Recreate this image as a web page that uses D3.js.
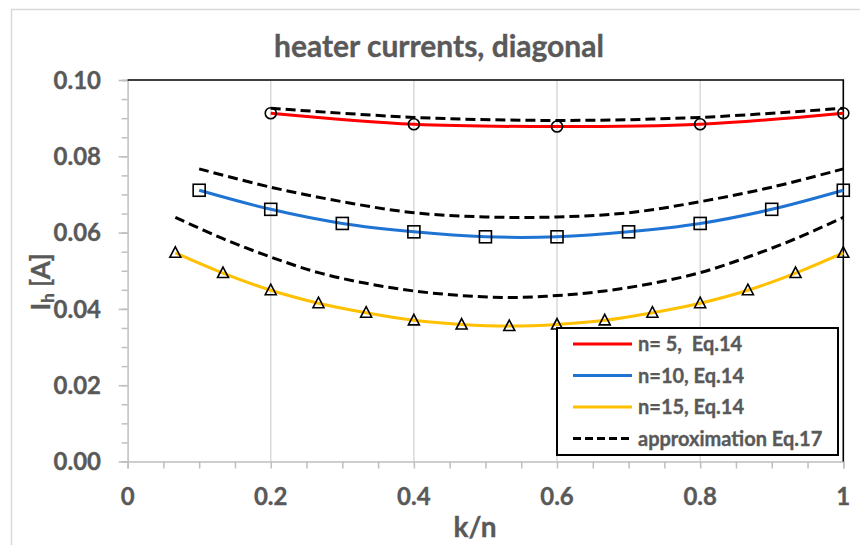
<!DOCTYPE html>
<html>
<head>
<meta charset="utf-8">
<script src="https://cdn.jsdelivr.net/npm/d3@7"></script>
<style>
  html, body { margin: 0; padding: 0; background: #fff; }
  svg text { font-family: Lato, "Open Sans", sans-serif; font-weight: bold; fill: #595959; stroke: #595959; stroke-width: 0.35px; }
</style>
</head>
<body>
<svg id="chart" width="860" height="545"></svg>
<script>
// ---- data ----
const xN5 = [0.2, 0.4, 0.6, 0.8, 1.0];
const n5 = [0.0913, 0.0884, 0.0878, 0.0884, 0.0913];
const approx5 = [0.0926, 0.0902, 0.0894, 0.0902, 0.0926];

const xN10 = [0.1, 0.2, 0.3, 0.4, 0.5, 0.6, 0.7, 0.8, 0.9, 1.0];
const n10 = [0.0711, 0.0661, 0.0624, 0.0602, 0.0589, 0.0589, 0.0602, 0.0624, 0.0661, 0.0711];
const approx10 = [0.0767, 0.0719, 0.0681, 0.0652, 0.0641, 0.0641, 0.0652, 0.0681, 0.0719, 0.0767];

const xN15 = [0.0667, 0.1333, 0.2, 0.2667, 0.3333, 0.4, 0.4667, 0.5333, 0.6, 0.6667, 0.7333, 0.8, 0.8667, 0.9333, 1.0];
const n15 = [0.0547, 0.0494, 0.0449, 0.0415, 0.0390, 0.0370, 0.0359, 0.0355, 0.0359, 0.0370, 0.0390, 0.0415, 0.0449, 0.0494, 0.0547];
const approx15 = [0.0640, 0.0584, 0.0536, 0.0495, 0.0467, 0.0447, 0.0435, 0.0430, 0.0435, 0.0447, 0.0467, 0.0495, 0.0536, 0.0584, 0.0640];

const xTicks = [0, 0.2, 0.4, 0.6, 0.8, 1];
const xTickLabels = ["0", "0.2", "0.4", "0.6", "0.8", "1"];
const yTicks = [0, 0.02, 0.04, 0.06, 0.08, 0.10];
const legendLabels = ["n= 5,  Eq.14", "n=10, Eq.14", "n=15, Eq.14", "approximation Eq.17"];
const titleText = "heater currents, diagonal";
const xTitle = "k/n";

// ---- layout ----
const svg = d3.select("#chart");
const L = 127.6, R = 843.3, T = 80, B = 461.5;
const x = d3.scaleLinear().domain([0, 1]).range([L, R]);
const y = d3.scaleLinear().domain([0, 0.1]).range([B, T]);

const red = "#ff0000", blue = "#1f74d3", gold = "#ffc000";
const axisGray = "#bfbfbf", gridGray = "#d9d9d9";

// outer chart border
svg.append("rect").attr("x", 11.5).attr("y", 9.5).attr("width", 1000).attr("height", 1000)
  .attr("fill", "none").attr("stroke", "#d9d9d9").attr("stroke-width", 1.5);

// vertical gridlines
svg.append("g").selectAll("line").data([0.2, 0.4, 0.6, 0.8]).join("line")
  .attr("x1", d => x(d)).attr("x2", d => x(d)).attr("y1", T).attr("y2", B)
  .attr("stroke", gridGray).attr("stroke-width", 1.5);

// x axis
const xAxis = svg.append("g").attr("transform", `translate(0,${B})`)
  .call(d3.axisBottom(x).tickValues(d3.range(0, 1.0001, 0.05)).tickSize(7).tickFormat(""));
xAxis.select(".domain").attr("stroke", axisGray).attr("stroke-width", 1.5);
xAxis.selectAll(".tick line").attr("stroke", axisGray).attr("stroke-width", 1.5);
svg.append("g").selectAll("text").data(xTicks).join("text")
  .attr("x", d => x(d)).attr("y", 504.5).attr("text-anchor", "middle")
  .attr("font-size", 24).text((d, i) => xTickLabels[i]);

// y axis
const yAxisMinor = svg.append("g").attr("transform", `translate(${L},0)`)
  .call(d3.axisLeft(y).tickValues(d3.range(0, 0.1001, 0.005)).tickSize(6).tickFormat(""));
yAxisMinor.select(".domain").attr("stroke", axisGray).attr("stroke-width", 1.5);
yAxisMinor.selectAll(".tick line").attr("stroke", axisGray).attr("stroke-width", 1.5);
const yAxisMajor = svg.append("g").attr("transform", `translate(${L},0)`)
  .call(d3.axisLeft(y).tickValues(yTicks).tickSize(9).tickFormat(""));
yAxisMajor.select(".domain").remove();
yAxisMajor.selectAll(".tick line").attr("stroke", axisGray).attr("stroke-width", 1.5);
svg.append("g").selectAll("text").data(yTicks).join("text")
  .attr("x", 101).attr("y", d => y(d) + 8.6).attr("text-anchor", "end")
  .attr("font-size", 24).text(d => d3.format(".2f")(d));

// top and right frame
svg.append("path").attr("d", `M${L},${T}H${R}V${B}`)
  .attr("fill", "none").attr("stroke", "#000").attr("stroke-width", 1.6);

// lines
const line = d3.line().curve(d3.curveCatmullRom.alpha(0.5));
function drawLine(xs, ys, color, dashed) {
  svg.append("path")
    .attr("d", line(xs.map((v, i) => [x(v), y(ys[i])])))
    .attr("fill", "none").attr("stroke", color).attr("stroke-width", 3)
    .attr("stroke-dasharray", dashed ? "10,5" : null);
}
drawLine(xN15, approx15, "#000", true);
drawLine(xN10, approx10, "#000", true);
drawLine(xN5, approx5, "#000", true);
drawLine(xN15, n15, gold, false);
drawLine(xN10, n10, blue, false);
drawLine(xN5, n5, red, false);

// markers
svg.append("g").selectAll("circle").data(xN5).join("circle")
  .attr("cx", d => x(d)).attr("cy", (d, i) => y(n5[i])).attr("r", 5.5)
  .attr("fill", "none").attr("stroke", "#000").attr("stroke-width", 1.6);
svg.append("g").selectAll("rect").data(xN10).join("rect")
  .attr("x", d => x(d) - 6).attr("y", (d, i) => y(n10[i]) - 6).attr("width", 12).attr("height", 12)
  .attr("fill", "none").attr("stroke", "#000").attr("stroke-width", 1.6);
svg.append("g").selectAll("path").data(xN15).join("path")
  .attr("d", (d, i) => { const cx = x(d), cy = y(n15[i]); return `M${cx},${cy - 6}L${cx + 5.5},${cy + 4.5}L${cx - 5.5},${cy + 4.5}Z`; })
  .attr("fill", "none").attr("stroke", "#000").attr("stroke-width", 1.6);

// legend
const lg = svg.append("g");
lg.append("rect").attr("x", 557).attr("y", 328).attr("width", 281).attr("height", 127)
  .attr("fill", "#fff").attr("stroke", "#000").attr("stroke-width", 2);
const legColors = [red, blue, gold, "#000"];
const legTexts = [];
legendLabels.forEach((lab, i) => {
  const yy = 344 + i * 31.5;
  lg.append("line").attr("x1", 573).attr("x2", 632).attr("y1", yy).attr("y2", yy)
    .attr("stroke", legColors[i]).attr("stroke-width", 3)
    .attr("stroke-dasharray", i === 3 ? "8,4" : null);
  legTexts.push(lg.append("text").attr("x", 638).attr("y", yy + 7).attr("font-size", 18.5)
    .attr("xml:space", "preserve").style("white-space", "pre").text(lab));
});
// size legend text so the longest label spans the same width as in the reference
const longest = legTexts[3].node().getComputedTextLength();
if (longest > 0) {
  const fs = Math.max(16, Math.min(20, 18.5 * 190 / longest));
  legTexts.forEach(t => t.attr("font-size", fs));
}

// titles
svg.append("text").attr("x", 439).attr("y", 57).attr("text-anchor", "middle")
  .attr("font-size", 30).text(titleText);
svg.append("text").attr("x", 475).attr("y", 537).attr("text-anchor", "middle")
  .attr("font-size", 28).text(xTitle);
const yt = svg.append("text").attr("transform", "translate(50,282) rotate(-90)")
  .attr("text-anchor", "middle").attr("font-size", 26);
yt.append("tspan").text("I");
yt.append("tspan").attr("font-size", 17).attr("dy", 4).text("h");
yt.append("tspan").attr("dy", -4).text(" [A]");
</script>
</body>
</html>
